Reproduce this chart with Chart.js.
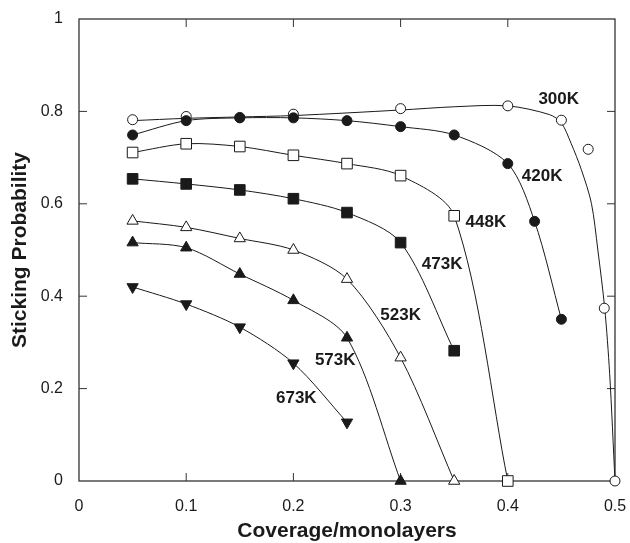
<!DOCTYPE html>
<html>
<head>
<meta charset="utf-8">
<script src="https://cdn.jsdelivr.net/npm/chart.js@4/dist/chart.umd.min.js"></script>
<style>
  html, body { margin: 0; padding: 0; background: #fff; }
  #wrap { width: 630px; height: 543px; }
</style>
</head>
<body>
<div id="wrap"><canvas id="chart" width="630" height="543"></canvas></div>
<script>
// coverage values (monolayers) and measured sticking probability per temperature
const cov300 = [0.05, 0.1, 0.15, 0.2, 0.3, 0.4, 0.45, 0.475, 0.49, 0.5];
const s300   = [0.782, 0.789, 0.787, 0.794, 0.806, 0.812, 0.781, 0.718, 0.374, 0];
// fitted curve for 300K (does not pass through the last points)
const fitCov300 = [0.05, 0.1, 0.15, 0.2, 0.3, 0.35, 0.4, 0.439, 0.45, 0.459, 0.4686, 0.478, 0.484, 0.4904, 0.495, 0.5];
const fitS300   = [0.780, 0.785, 0.788, 0.791, 0.803, 0.810, 0.812, 0.793, 0.775, 0.731, 0.674, 0.601, 0.500, 0.374, 0.233, 0];

const cov420 = [0.05, 0.1, 0.15, 0.2, 0.25, 0.3, 0.35, 0.4, 0.425, 0.45];
const s420   = [0.749, 0.780, 0.786, 0.786, 0.780, 0.767, 0.749, 0.687, 0.562, 0.350];

const cov448 = [0.05, 0.1, 0.15, 0.2, 0.25, 0.3, 0.35, 0.4];
const s448   = [0.711, 0.730, 0.724, 0.705, 0.687, 0.661, 0.574, 0];

const cov473 = [0.05, 0.1, 0.15, 0.2, 0.25, 0.3, 0.35];
const s473   = [0.654, 0.643, 0.630, 0.611, 0.581, 0.516, 0.282];

const cov523 = [0.05, 0.1, 0.15, 0.2, 0.25, 0.3, 0.35];
const s523   = [0.563, 0.549, 0.525, 0.500, 0.437, 0.267, 0];

const cov573 = [0.05, 0.1, 0.15, 0.2, 0.25, 0.3];
const s573   = [0.516, 0.505, 0.448, 0.391, 0.310, 0];

const cov673 = [0.05, 0.1, 0.15, 0.2, 0.25];
const s673   = [0.420, 0.383, 0.333, 0.255, 0.127];

// curve labels and where they sit (data units)
const labelText = ['300K', '420K', '448K', '473K', '523K', '573K', '673K'];
const labelX    = [0.4475, 0.432, 0.3796, 0.3387, 0.300, 0.239, 0.2027];
const labelY    = [0.827, 0.659, 0.559, 0.470, 0.358, 0.2606, 0.180];

// tick values
const xTicks = [0, 0.1, 0.2, 0.3, 0.4, 0.5];
const yTicks = [0, 0.2, 0.4, 0.6, 0.8, 1];

const INK = '#1a1a1a';

function pts(xs, ys) {
    return xs.map((x, i) => ({ x: x, y: ys[i] }));
}

// line + markers for one temperature
function series(label, xs, ys, style, filled, radius, rotation, order) {
    return {
        label: label,
        data: pts(xs, ys),
        borderColor: INK,
        borderWidth: 1,
        tension: 0.3,
        pointStyle: style,
        pointRotation: rotation || 0,
        pointRadius: radius,
        pointBorderWidth: 1,
        pointBorderColor: INK,
        pointBackgroundColor: filled ? INK : '#ffffff',
        clip: false,
        order: order
    };
}

// box + inward ticks, drawn under the markers
const frame = {
    id: 'frame',
    beforeDatasetsDraw(chart) {
        const { ctx, chartArea: a, scales } = chart;
        const len = 8;
        ctx.save();
        ctx.strokeStyle = '#333';
        ctx.lineWidth = 1.3;
        ctx.strokeRect(a.left, a.top, a.right - a.left, a.bottom - a.top);
        ctx.lineWidth = 1;
        ctx.beginPath();
        xTicks.slice(1, -1).forEach(v => {
            const px = scales.x.getPixelForValue(v);
            ctx.moveTo(px, a.bottom); ctx.lineTo(px, a.bottom - len);
            ctx.moveTo(px, a.top); ctx.lineTo(px, a.top + len);
        });
        yTicks.slice(1, -1).forEach(v => {
            const py = scales.y.getPixelForValue(v);
            ctx.moveTo(a.left, py); ctx.lineTo(a.left + len, py);
            ctx.moveTo(a.right, py); ctx.lineTo(a.right - len, py);
        });
        ctx.stroke();
        ctx.restore();
    }
};

// temperature labels next to each curve
const curveLabels = {
    id: 'curveLabels',
    afterDatasetsDraw(chart) {
        const { ctx, scales } = chart;
        ctx.save();
        ctx.fillStyle = INK;
        ctx.font = 'bold 17px "Liberation Sans", Arial, sans-serif';
        ctx.textAlign = 'center';
        ctx.textBaseline = 'middle';
        labelText.forEach((t, i) => {
            ctx.fillText(t, scales.x.getPixelForValue(labelX[i]), scales.y.getPixelForValue(labelY[i]));
        });
        ctx.restore();
    }
};

new Chart(document.getElementById('chart'), {
    type: 'line',
    plugins: [frame, curveLabels],
    data: {
        datasets: [
            {
                label: '300K fit',
                data: pts(fitCov300, fitS300),
                borderColor: INK,
                borderWidth: 1,
                tension: 0.3,
                pointRadius: 0,
                clip: false,
                order: 20
            },
            Object.assign(series('300K', cov300, s300, 'circle', false, 5, 0, 10), { showLine: false }),
            series('420K', cov420, s420, 'circle', true, 5, 0, 7),
            series('448K', cov448, s448, 'rect', false, 7.5, 0, 6),
            series('473K', cov473, s473, 'rect', true, 7.5, 0, 5),
            series('523K', cov523, s523, 'triangle', false, 6.5, 0, 4),
            series('573K', cov573, s573, 'triangle', true, 6.5, 0, 3),
            series('673K', cov673, s673, 'triangle', true, 6.5, 180, 2)
        ]
    },
    options: {
        responsive: false,
        animation: false,
        events: [],
        layout: { padding: { top: 19, right: 15, left: 0, bottom: 0 } },
        plugins: { legend: { display: false }, tooltip: { enabled: false } },
        scales: {
            x: {
                type: 'linear',
                min: 0, max: 0.5,
                afterBuildTicks: s => { s.ticks = xTicks.map(v => ({ value: v })); },
                afterFit: s => { s.height = 62; s.paddingLeft = 0; s.paddingRight = 0; },
                grid: { display: false, drawTicks: false },
                border: { display: false },
                ticks: {
                    padding: 16,
                    color: INK,
                    font: { family: '"Liberation Sans", Arial, sans-serif', size: 16 },
                    callback: v => String(v)
                },
                title: {
                    display: true,
                    text: 'Coverage/monolayers',
                    color: INK,
                    font: { family: '"Liberation Sans", Arial, sans-serif', size: 21, weight: 'bold', lineHeight: 1 },
                    padding: { top: 0, bottom: 1 }
                }
            },
            y: {
                type: 'linear',
                min: 0, max: 1,
                afterBuildTicks: s => { s.ticks = yTicks.map(v => ({ value: v })); },
                afterFit: s => { s.width = 79; s.paddingTop = 0; s.paddingBottom = 0; },
                grid: { display: false, drawTicks: false },
                border: { display: false },
                ticks: {
                    padding: 16,
                    color: INK,
                    font: { family: '"Liberation Sans", Arial, sans-serif', size: 16 },
                    callback: v => String(v)
                },
                title: {
                    display: true,
                    text: 'Sticking Probability',
                    color: INK,
                    font: { family: '"Liberation Sans", Arial, sans-serif', size: 21, weight: 'bold', lineHeight: 1 },
                    padding: { top: 10, bottom: 0 }
                }
            }
        }
    }
});
</script>
</body>
</html>
